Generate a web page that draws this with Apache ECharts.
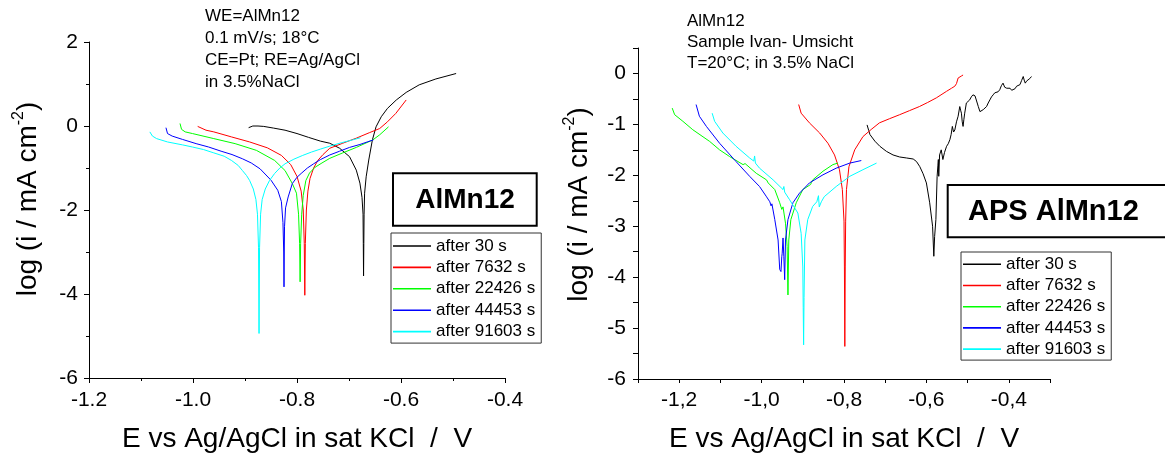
<!DOCTYPE html>
<html>
<head>
<meta charset="utf-8">
<script src="https://cdn.jsdelivr.net/npm/echarts@6/dist/echarts.min.js"></script>
<style>
html,body{margin:0;padding:0;background:#fff;}
#chart{width:1165px;height:456px;}
</style>
</head>
<body>
<div id="chart"></div>
<script>
// ---------- DATA ----------
const seriesNames = ['after 30 s', 'after 7632 s', 'after 22426 s', 'after 44453 s', 'after 91603 s'];

// Left panel (WE=AlMn12) : E in V, log(i)
const leftE30 = [-0.893,-0.885,-0.875,-0.864,-0.845,-0.823,-0.800,-0.778,-0.755,-0.737,-0.718,-0.699,-0.686,-0.679,-0.675,-0.673,-0.6725,-0.672,-0.6715,-0.671,-0.670,-0.667,-0.662,-0.655,-0.648,-0.638,-0.626,-0.609,-0.590,-0.565,-0.533,-0.494];
const leftI30 = [-0.04,0.0,0.0,-0.01,-0.05,-0.10,-0.18,-0.27,-0.36,-0.41,-0.53,-0.73,-1.05,-1.36,-1.70,-2.10,-2.80,-3.57,-2.80,-2.10,-1.60,-1.21,-0.81,-0.33,-0.02,0.22,0.42,0.62,0.80,0.98,1.12,1.25];

const leftE7632 = [-0.991,-0.975,-0.960,-0.926,-0.891,-0.857,-0.830,-0.812,-0.800,-0.792,-0.788,-0.786,-0.785,-0.784,-0.782,-0.779,-0.775,-0.768,-0.760,-0.750,-0.737,-0.712,-0.686,-0.661,-0.641,-0.626,-0.610,-0.590];
const leftI7632 = [-0.01,-0.10,-0.14,-0.26,-0.38,-0.52,-0.70,-0.92,-1.20,-1.55,-2.00,-2.80,-4.03,-2.80,-2.00,-1.55,-1.25,-1.00,-0.82,-0.68,-0.53,-0.41,-0.29,-0.16,-0.06,0.10,0.30,0.62];

const leftE22426 = [-1.025,-1.022,-1.015,-1.001,-0.960,-0.919,-0.878,-0.843,-0.823,-0.809,-0.801,-0.797,-0.795,-0.794,-0.793,-0.791,-0.788,-0.783,-0.776,-0.765,-0.752,-0.737,-0.712,-0.686,-0.654,-0.641,-0.624];
const leftI22426 = [0.06,-0.08,-0.14,-0.18,-0.30,-0.42,-0.58,-0.82,-1.06,-1.37,-1.60,-2.10,-2.80,-3.71,-2.80,-2.10,-1.65,-1.30,-1.12,-0.98,-0.88,-0.77,-0.64,-0.51,-0.33,-0.21,-0.02];

const leftE44453 = [-1.052,-1.049,-1.040,-1.020,-0.994,-0.970,-0.946,-0.925,-0.905,-0.888,-0.871,-0.850,-0.837,-0.830,-0.827,-0.8255,-0.825,-0.8245,-0.824,-0.822,-0.817,-0.809,-0.800,-0.792,-0.780,-0.768,-0.755,-0.737,-0.718,-0.699,-0.679,-0.665,-0.653];
const leftI44453 = [-0.04,-0.18,-0.24,-0.32,-0.42,-0.50,-0.60,-0.68,-0.78,-0.88,-1.02,-1.29,-1.53,-1.80,-2.30,-3.00,-3.83,-3.00,-2.40,-1.95,-1.69,-1.37,-1.22,-1.13,-1.00,-0.90,-0.80,-0.69,-0.60,-0.51,-0.44,-0.38,-0.33];

const leftE91603 = [-1.083,-1.078,-1.070,-1.049,-1.020,-1.001,-0.980,-0.960,-0.940,-0.926,-0.913,-0.905,-0.897,-0.891,-0.884,-0.879,-0.876,-0.874,-0.873,-0.872,-0.870,-0.867,-0.861,-0.853,-0.843,-0.833,-0.823,-0.806,-0.789,-0.772,-0.755,-0.737,-0.715,-0.693,-0.678];
const leftI91603 = [-0.14,-0.24,-0.30,-0.38,-0.45,-0.50,-0.56,-0.64,-0.72,-0.82,-0.94,-1.06,-1.18,-1.30,-1.50,-1.75,-2.10,-2.90,-4.94,-2.90,-2.10,-1.75,-1.50,-1.30,-1.13,-1.00,-0.90,-0.79,-0.70,-0.62,-0.55,-0.48,-0.40,-0.33,-0.28];

// Right panel (APS AlMn12)
const rightE30 = [-0.744,-0.740,-0.737,-0.725,-0.713,-0.697,-0.681,-0.665,-0.648,-0.632,-0.624,-0.616,-0.608,-0.600,-0.592,-0.585,-0.582,-0.580,-0.577,-0.574,-0.572,-0.571,-0.570,-0.568,-0.564,-0.560,-0.556,-0.551,-0.547,-0.543,-0.540,-0.537,-0.534,-0.531,-0.527,-0.523,-0.519,-0.517,-0.515,-0.513,-0.511,-0.509,-0.507,-0.503,-0.499,-0.495,-0.491,-0.487,-0.482,-0.478,-0.474,-0.470,-0.466,-0.462,-0.458,-0.454,-0.450,-0.446,-0.442,-0.438,-0.434,-0.430,-0.426,-0.422,-0.418,-0.414,-0.410,-0.405,-0.401,-0.397,-0.393,-0.389,-0.385,-0.381,-0.377,-0.373,-0.369,-0.365,-0.362,-0.360,-0.357,-0.353,-0.349,-0.345];
const rightI30 = [-1.01,-1.12,-1.20,-1.33,-1.43,-1.53,-1.60,-1.64,-1.66,-1.68,-1.73,-1.83,-1.97,-2.15,-2.54,-3.00,-3.59,-3.20,-2.87,-2.02,-1.80,-1.69,-2.02,-1.60,-1.50,-1.69,-1.55,-1.43,-1.38,-1.30,-1.20,-1.04,-1.15,-1.11,-0.95,-0.84,-0.65,-0.72,-0.78,-0.95,-1.04,-0.90,-0.78,-0.58,-0.55,-0.52,-0.46,-0.42,-0.44,-0.45,-0.65,-0.75,-0.72,-0.71,-0.68,-0.65,-0.58,-0.52,-0.46,-0.42,-0.38,-0.35,-0.36,-0.32,-0.24,-0.19,-0.27,-0.29,-0.28,-0.29,-0.33,-0.35,-0.30,-0.25,-0.24,-0.22,-0.14,-0.06,-0.15,-0.19,-0.15,-0.12,-0.10,-0.06];

const rightE7632 = [-0.910,-0.904,-0.884,-0.859,-0.839,-0.823,-0.811,-0.804,-0.800,-0.799,-0.798,-0.797,-0.796,-0.794,-0.788,-0.774,-0.754,-0.734,-0.714,-0.690,-0.665,-0.641,-0.617,-0.597,-0.576,-0.551,-0.539,-0.531,-0.527,-0.523,-0.519,-0.515,-0.511];
const rightI7632 = [-0.61,-0.78,-0.97,-1.17,-1.37,-1.60,-1.89,-2.28,-2.90,-3.80,-5.36,-3.80,-2.90,-2.28,-1.83,-1.50,-1.24,-1.10,-0.97,-0.89,-0.81,-0.73,-0.65,-0.57,-0.48,-0.35,-0.29,-0.25,-0.20,-0.09,-0.06,-0.05,-0.03];

const rightE22426 = [-1.217,-1.211,-1.191,-1.167,-1.126,-1.102,-1.078,-1.045,-1.040,-1.036,-1.013,-0.988,-0.984,-0.980,-0.968,-0.956,-0.951,-0.948,-0.942,-0.938,-0.936,-0.934,-0.929,-0.916,-0.900,-0.881,-0.879,-0.876,-0.851,-0.827,-0.815];
const rightI22426 = [-0.68,-0.81,-0.94,-1.105,-1.335,-1.50,-1.63,-1.79,-1.77,-1.80,-1.96,-2.09,-2.15,-2.12,-2.28,-2.54,-2.67,-2.62,-2.94,-3.40,-4.35,-3.27,-2.87,-2.54,-2.28,-2.18,-2.14,-2.09,-1.92,-1.79,-1.76];

const rightE44453 = [-1.159,-1.151,-1.134,-1.102,-1.062,-1.029,-1.005,-0.989,-0.980,-0.977,-0.975,-0.968,-0.960,-0.956,-0.953,-0.951,-0.950,-0.948,-0.946,-0.944,-0.942,-0.936,-0.924,-0.908,-0.884,-0.851,-0.819,-0.786,-0.758];
const rightI44453 = [-0.61,-0.84,-1.04,-1.37,-1.73,-2.02,-2.22,-2.41,-2.52,-2.60,-2.56,-2.87,-3.27,-3.85,-3.89,-3.60,-3.53,-3.23,-3.60,-4.05,-3.27,-2.87,-2.54,-2.35,-2.15,-1.99,-1.86,-1.76,-1.71];

const rightE91603 = [-1.120,-1.114,-1.094,-1.062,-1.029,-1.019,-1.017,-1.015,-1.005,-0.972,-0.948,-0.946,-0.944,-0.932,-0.912,-0.904,-0.900,-0.899,-0.898,-0.897,-0.895,-0.888,-0.876,-0.866,-0.862,-0.860,-0.855,-0.848,-0.819,-0.786,-0.754,-0.721];
const rightI91603 = [-0.78,-0.94,-1.17,-1.43,-1.66,-1.72,-1.62,-1.76,-1.86,-2.09,-2.28,-2.22,-2.33,-2.48,-2.74,-3.14,-3.80,-4.60,-5.33,-4.40,-3.27,-2.87,-2.61,-2.52,-2.40,-2.62,-2.52,-2.42,-2.22,-2.02,-1.89,-1.76];

const leftXTicks = [-1.2, -1.0, -0.8, -0.6, -0.4];
const leftYTicks = [2, 0, -2, -4, -6];
const rightXTicks = [-1.2, -1.0, -0.8, -0.6, -0.4];
const rightYTicks = [0, -1, -2, -3, -4, -5, -6];

// ---------- CHART ----------
const FONT = '"Liberation Sans", Arial, Helvetica, sans-serif';
const colors = ['#000000', '#ff0000', '#00ff00', '#0000ff', '#00ffff'];
const zip = (xs, ys) => xs.map((x, i) => [x, ys[i]]);

const leftSets = [[leftE30, leftI30], [leftE7632, leftI7632], [leftE22426, leftI22426], [leftE44453, leftI44453], [leftE91603, leftI91603]];
const rightSets = [[rightE30, rightI30], [rightE7632, rightI7632], [rightE22426, rightI22426], [rightE44453, rightI44453], [rightE91603, rightI91603]];

const series = [];
leftSets.forEach((s, i) => series.push({
  name: seriesNames[i], type: 'line', xAxisIndex: 0, yAxisIndex: 0,
  data: zip(s[0], s[1]), symbol: 'none', showSymbol: false,
  lineStyle: { color: colors[i], width: 1 }, itemStyle: { color: colors[i] }
}));
rightSets.forEach((s, i) => series.push({
  name: seriesNames[i], type: 'line', xAxisIndex: 1, yAxisIndex: 1,
  data: zip(s[0], s[1]), symbol: 'none', showSymbol: false,
  lineStyle: { color: colors[i], width: 1 }, itemStyle: { color: colors[i] }
}));

const near = (v, arr) => arr.some(t => Math.abs(t - v) < 1e-6);
const axisLine = { show: true, onZero: false, lineStyle: { color: '#000', width: 1 } };
const axisTick = { show: true, inside: false, length: 5, lineStyle: { color: '#000', width: 1 } };
const labelStyle = { color: '#000', fontSize: 21, fontFamily: FONT };
const yName = '{a|log (i / mA cm}{s|-2}{a|)}';
const yNameStyle = (pad) => ({
  color: '#000', fontFamily: FONT, fontSize: 28, padding: pad,
  rich: {
    a: { fontSize: 28, fontFamily: FONT, color: '#000', lineHeight: 34 },
    s: { fontSize: 16, fontFamily: FONT, color: '#000', lineHeight: 16, verticalAlign: 'top' }
  }
});
const xName = 'E vs Ag/AgCl in sat KCl  /  V';
const xNameStyle = { color: '#000', fontFamily: FONT, fontSize: 28, lineHeight: 34 };

const legendCommon = {
  orient: 'vertical', selectedMode: false, data: seriesNames,
  icon: 'rect', itemWidth: 38, itemHeight: 1.6,
  borderColor: '#333', borderWidth: 1, backgroundColor: '#fff',
  textStyle: { color: '#000', fontSize: 17, fontFamily: FONT, lineHeight: 17 }
};

const option = {
  animation: false,
  backgroundColor: '#fff',
  grid: [
    { left: 89, top: 42, width: 416, height: 336, containLabel: false, outerBoundsMode: 'none' },
    { left: 638, top: 48, width: 412, height: 331, containLabel: false, outerBoundsMode: 'none' }
  ],
  xAxis: [
    { gridIndex: 0, type: 'value', min: -1.2, max: -0.4, interval: 0.2,
      axisLine, axisTick, splitLine: { show: false },
      minorTick: { show: true, splitNumber: 2, length: 3, lineStyle: { color: '#000' } },
      axisLabel: Object.assign({ margin: 12, formatter: v => near(v, leftXTicks) ? v.toFixed(1) : '' }, labelStyle),
      name: xName, nameLocation: 'middle', nameGap: 44, nameTextStyle: xNameStyle },
    { gridIndex: 1, type: 'value', min: -1.3, max: -0.3, interval: 0.1,
      axisLine, axisTick: Object.assign({}, axisTick, { length: 4 }), splitLine: { show: false },
      axisLabel: Object.assign({ margin: 11, formatter: v => near(v, rightXTicks) ? v.toFixed(1).replace('.', ',') : '' }, labelStyle),
      name: xName, nameLocation: 'middle', nameGap: 43, nameTextStyle: xNameStyle }
  ],
  yAxis: [
    { gridIndex: 0, type: 'value', min: -6, max: 2, interval: 2,
      axisLine, axisTick, splitLine: { show: false },
      minorTick: { show: true, splitNumber: 2, length: 3, lineStyle: { color: '#000' } },
      axisLabel: Object.assign({ margin: 11, formatter: v => near(v, leftYTicks) ? String(Math.round(v)) : '' }, labelStyle),
      name: yName, nameLocation: 'middle', nameRotate: 90, nameGap: 44, nameTextStyle: yNameStyle([0, 0, 0, 22]) },
    { gridIndex: 1, type: 'value', min: -6, max: 0.5, interval: 0.5,
      axisLine, axisTick: Object.assign({}, axisTick, { length: 5 }), splitLine: { show: false },
      axisLabel: Object.assign({ margin: 12, formatter: v => near(v, rightYTicks) ? String(Math.round(v)) : '' }, labelStyle),
      name: yName, nameLocation: 'middle', nameRotate: 90, nameGap: 42, nameTextStyle: yNameStyle([0, 0, 0, 18]) }
  ],
  legend: [
    Object.assign({}, legendCommon, { left: 391, top: 233, padding: [4.5, 6, 3, 2], itemGap: 4.4 }),
    Object.assign({}, legendCommon, { left: 961, top: 252, padding: [3.8, 6, 2.5, 2], itemGap: 4.2 })
  ],
  graphic: [
    { type: 'text', left: 205, top: 5,
      style: { text: 'WE=AlMn12\n0.1 mV/s; 18°C\nCE=Pt; RE=Ag/AgCl\nin 3.5%NaCl', font: '17px ' + FONT, fill: '#000', lineHeight: 22 } },
    { type: 'text', left: 687, top: 11,
      style: { text: 'AlMn12\nSample Ivan- Umsicht\nT=20°C; in 3.5% NaCl', font: '17px ' + FONT, fill: '#000', lineHeight: 21 } },
    { type: 'rect', shape: { x: 393, y: 173.3, width: 143.7, height: 52.4 },
      style: { fill: '#fff', stroke: '#000', lineWidth: 2 }, z: 100 },
    { type: 'text', x: 465, y: 200, z: 101,
      style: { text: 'AlMn12', font: 'bold 28px ' + FONT, fill: '#000', align: 'center', verticalAlign: 'middle', textAlign: 'center', textVerticalAlign: 'middle' } },
    { type: 'rect', shape: { x: 947.7, y: 185, width: 320, height: 52.3 },
      style: { fill: '#fff', stroke: '#000', lineWidth: 2 }, z: 100 },
    { type: 'text', x: 968, y: 211.5, z: 101,
      style: { text: 'APS AlMn12', font: 'bold 29px ' + FONT, fill: '#000', align: 'left', verticalAlign: 'middle', textAlign: 'left', textVerticalAlign: 'middle' } }
  ],
  series
};

const chart = echarts.init(document.getElementById('chart'), null, { renderer: 'canvas' });
chart.setOption(option);
</script>
</body>
</html>
